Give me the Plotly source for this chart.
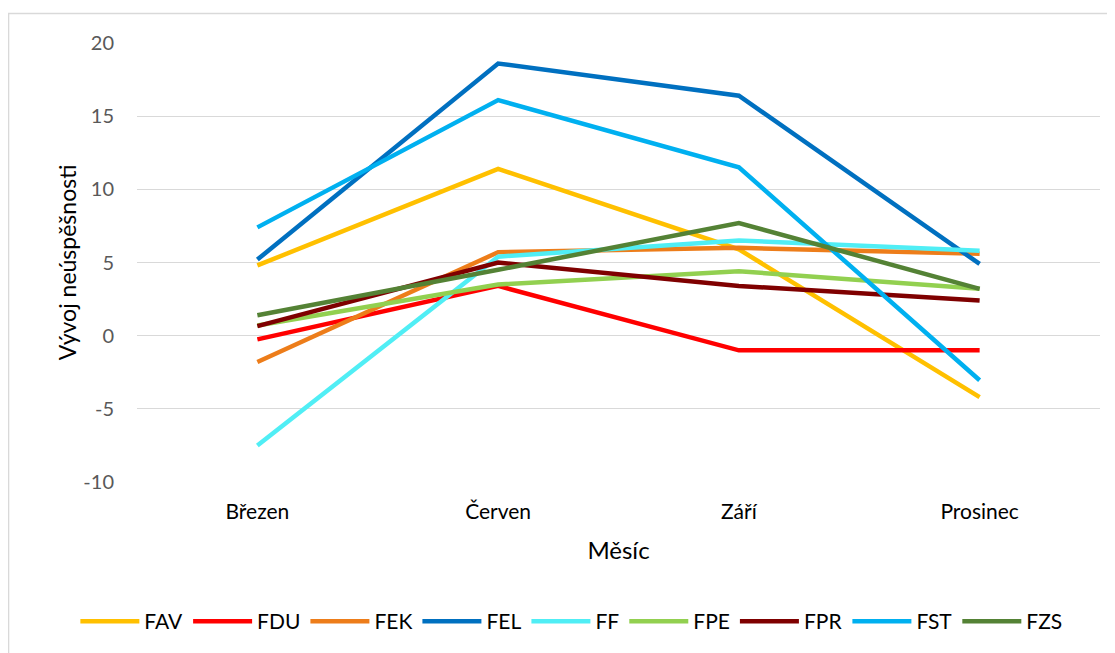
import plotly.graph_objects as go

# months on the x axis
months = ['Březen', 'Červen', 'Září', 'Prosinec']

# y axis ticks (Excel style hyphen minus)
y_ticks = [-10, -5, 0, 5, 10, 15, 20]
y_tick_labels = ['-10', '-5', '0', '5', '10', '15', '20']

# values per faculty
fav = [4.8, 11.4, 5.9, -4.2]
fdu = [-0.25, 3.4, -1.0, -1.0]
fek = [-1.8, 5.7, 6.0, 5.6]
fel = [5.2, 18.6, 16.4, 4.9]
ff = [-7.5, 5.4, 6.5, 5.8]
fpe = [0.7, 3.5, 4.4, 3.2]
fpr = [0.65, 5.0, 3.4, 2.4]
fst = [7.4, 16.1, 11.5, -3.05]
fzs = [1.4, 4.5, 7.7, 3.2]

series = [
    ('FAV', fav, '#FFC000'),
    ('FDU', fdu, '#FF0000'),
    ('FEK', fek, '#ED7D1A'),
    ('FEL', fel, '#0070C0'),
    ('FF', ff, '#50EEF5'),
    ('FPE', fpe, '#92D050'),
    ('FPR', fpr, '#7F0000'),
    ('FST', fst, '#00B0F0'),
    ('FZS', fzs, '#548235'),
]

fig = go.Figure()

for name, vals, color in series:
    fig.add_trace(go.Scatter(
        x=months,
        y=vals,
        name=name,
        mode='lines',
        line=dict(color=color, width=4.5)
    ))

# outer chart border (only left and top edges visible in the window)
fig.add_shape(
    type='rect', xref='paper', yref='paper',
    x0=-0.1334, x1=1.05, y0=-0.6, y1=1.067,
    line=dict(color='#d9d9d9', width=1.5),
    fillcolor='rgba(0,0,0,0)', layer='below'
)

# the page body has an 8px margin, so the figure is a bit smaller
fig.update_layout(
    width=1107,
    height=645,
    margin=dict(l=129, r=15, t=35, b=170),
    paper_bgcolor='white',
    plot_bgcolor='white',
    font=dict(family='Lato, Carlito, sans-serif', color='#000000'),
    showlegend=True,
    legend=dict(
        orientation='h',
        x=-0.064, xanchor='left',
        y=-0.315, yanchor='middle',
        font=dict(size=21, color='#000000'),
        itemwidth=59,
        traceorder='normal',
    ),
    xaxis=dict(
        type='category',
        range=[-0.5, 3.5],
        automargin=False,
        showgrid=False,
        zeroline=False,
        showline=False,
        ticks='',
        tickfont=dict(size=21, color='#000000'),
        ticklabelstandoff=15,
        title=dict(text='Měsíc', font=dict(size=24, color='#000000'), standoff=20),
    ),
    yaxis=dict(
        range=[-10, 20],
        tickvals=y_ticks,
        ticktext=y_tick_labels,
        automargin=False,
        showgrid=True,
        gridcolor='#d9d9d9',
        gridwidth=1.3,
        zeroline=False,
        showline=False,
        ticks='',
        tickfont=dict(size=20, color='#595959'),
        ticklabelstandoff=22,
        title=dict(text='Vývoj neúspěšnosti', font=dict(size=23, color='#000000'), standoff=0),
    ),
)

fig.write_html("out.html")
